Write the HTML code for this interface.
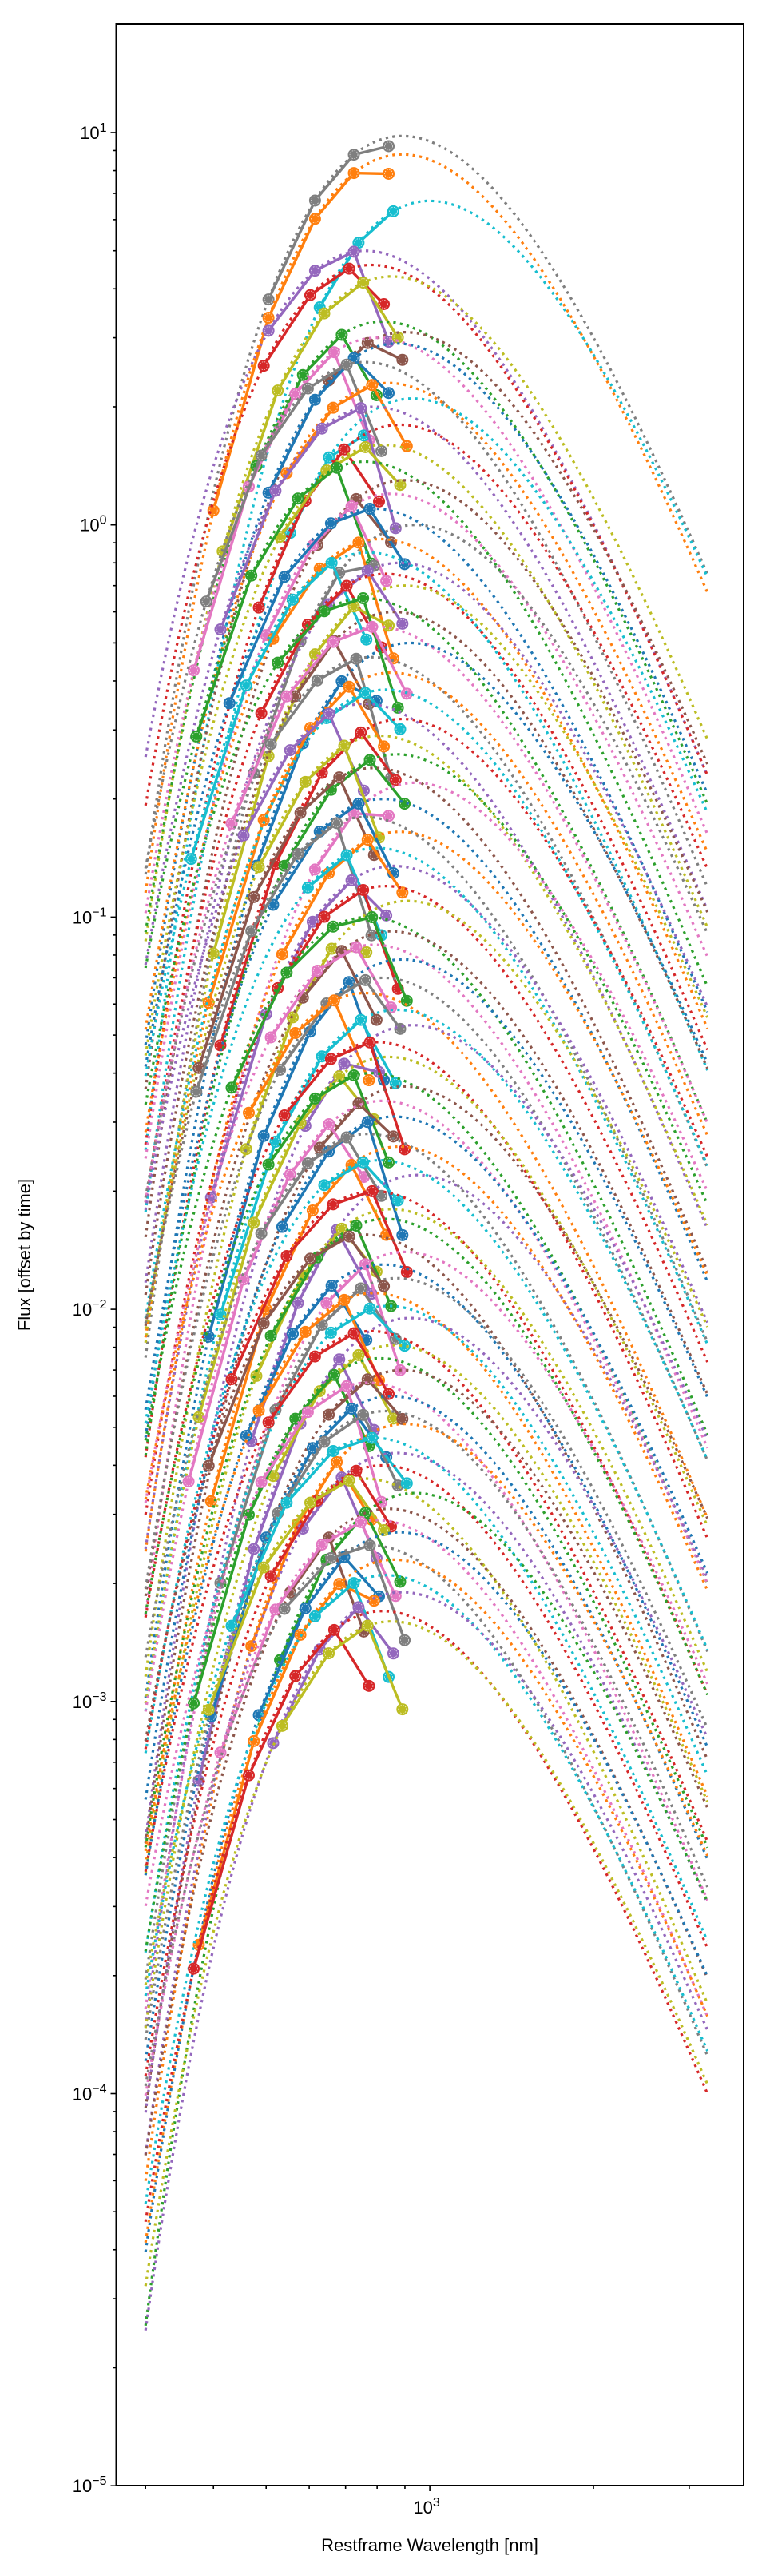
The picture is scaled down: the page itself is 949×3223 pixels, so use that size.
<!DOCTYPE html>
<html><head><meta charset="utf-8"><style>
html,body{margin:0;padding:0;background:#fff;}
svg text{font-family:"Liberation Sans",sans-serif;fill:#000;}
</style></head><body>
<svg id="chart" width="949" height="3218" xmlns="http://www.w3.org/2000/svg">
<rect x="0" y="0" width="949" height="3218" fill="#fff"/>
<g id="curves"></g>
<rect x="145.5" y="30" width="785.5" height="3080" fill="none" stroke="#000" stroke-width="2"/>
<g id="axes"></g>
<text x="538" y="3192" font-size="22" text-anchor="middle">Restframe Wavelength [nm]</text>
<text x="38" y="1570" font-size="22" text-anchor="middle" transform="rotate(-90 38 1570)">Flux [offset by time]</text>
</svg>
<script>
// peak flux of each spectrum (offset by time)
const peakFlux = [9.8,8.8,6.7,5.0,4.6,4.3,3.3,3.1,3.0,2.9,2.6,2.3,2.1,2.0,1.8,1.6,1.45,1.3,1.2,1.1,1.0,0.92,0.85,0.8,0.75,0.7,0.65,0.6,0.55,0.5,0.46,0.42,0.38,0.35,0.32,0.29,0.26,0.24,0.22,0.2,0.18,0.165,0.15,0.135,0.12,0.11,0.1,0.092,0.085,0.078,0.07,0.064,0.058,0.053,0.048,0.044,0.04,0.037,0.034,0.031,0.028,0.026,0.024,0.022,0.02,0.018,0.017,0.0155,0.014,0.013,0.012,0.011,0.0102,0.0095,0.0088,0.0081,0.0075,0.007,0.0065,0.006,0.0055,0.0051,0.0047,0.0043,0.004,0.0037,0.0034,0.0031,0.0029,0.0027,0.0025,0.0023,0.0021,0.0019,0.0017,0.0016];
// wavelength of peak of each model curve [nm]
const peakWave = [890,890,1000,760,780,850,820,900,800,870,760,840,930,790,880,820,760,900,850,790,940,810,770,880,830,900,760,860,800,920,780,850,830,760,890,810,870,790,940,820,760,880,800,860,830,910,770,850,790,890,820,760,870,930,800,840,780,900,820,860,770,880,810,950,790,850,830,760,900,820,870,790,840,920,780,860,810,890,770,850,830,900,790,870,820,760,940,840,800,880,780,860,830,890,820,850];
// redshift-like stretch of observed bands
const bandShift = [1.0,1.0,1.02,1.0,0.98,1.04,0.95,1.06,0.92,1.0,0.97,1.08,0.9,1.03,0.96,1.05,0.93,1.01,0.99,1.07,0.94,1.02,0.91,1.06,0.97,1.0,1.04,0.92,1.08,0.95,1.01,0.98,1.05,0.9,1.03,0.96,1.07,0.94,1.0,1.02,0.93,1.06,0.97,0.99,1.04,0.91,1.08,0.95,1.01,0.98,1.05,0.92,1.03,0.96,1.07,0.94,1.0,1.02,0.9,1.06,0.97,0.99,1.04,0.93,1.08,0.95,1.01,0.98,1.05,0.91,1.03,0.96,1.07,0.94,1.0,1.02,0.92,1.06,0.97,0.99,1.04,0.93,1.08,0.95,1.01,0.98,1.05,0.9,1.03,0.96,1.07,0.94,1.0,1.02,0.92,1.06];
// index of first observed band
const firstBand = [1,0,2,1,1,0,1,2,0,1,0,1,2,0,1,1,0,2,1,0,1,1,0,2,1,0,1,2,0,1,1,0,2,1,0,1,1,0,2,1,0,1,2,0,1,1,0,2,1,0,1,1,0,2,1,0,1,2,0,1,1,0,2,1,0,1,1,0,2,1,0,1,2,0,1,1,0,2,1,0,1,1,0,2,1,0,1,2,0,1,1,0,2,1,0,1];
// ratio of last observed point to model
const lastFactor = [0.95,0.9,1.0,0.6,0.8,0.7,0.65,0.85,0.55,0.75,0.6,0.7,0.9,0.5,0.65,0.8,0.55,0.7,0.6,0.75,0.85,0.5,0.6,0.7,0.65,0.8,0.55,0.6,0.7,0.75,0.5,0.65,0.8,0.6,0.7,0.55,0.75,0.6,0.85,0.65,0.5,0.7,0.6,0.75,0.55,0.8,0.65,0.6,0.7,0.5,0.75,0.6,0.65,0.8,0.55,0.7,0.6,0.75,0.65,0.5,0.7,0.6,0.8,0.55,0.65,0.7,0.6,0.75,0.5,0.65,0.7,0.6,0.8,0.55,0.7,0.65,0.6,0.75,0.5,0.7,0.65,0.6,0.8,0.55,0.7,0.75,0.6,0.5,0.65,0.7,0.6,0.8,0.55,0.7,0.65,0.6];
const bandsBase = [400,505,615,725,840];
const xTickLabels = ["10"];
const colors = ["#1f77b4","#ff7f0e","#2ca02c","#d62728","#9467bd","#8c564b","#e377c2","#7f7f7f","#bcbd22","#17becf"];
const colorOrder = [7,1,9,4,3,8,2,5,6,0];

const NS="http://www.w3.org/2000/svg";
const X0=145.5, X1=931, XL0=Math.log10(265), XL1=Math.log10(3777);
const Y0=30, Y1=3110, YT=166, PPD=490.7;
function xs(l){return X0+(Math.log10(l)-XL0)/(XL1-XL0)*(X1-X0);}
function ys(f){return YT+(1-Math.log10(f))*PPD;}
function model(P,lp,l){const a=4.965;return P*Math.pow(lp/l,5)*(Math.exp(a)-1)/(Math.exp(a*lp/l)-1);}

const g=document.getElementById('curves');
const clip=document.createElementNS(NS,'clipPath');clip.id='clp';
const cr=document.createElementNS(NS,'rect');cr.setAttribute('x',X0);cr.setAttribute('y',Y0);cr.setAttribute('width',X1-X0);cr.setAttribute('height',Y1-Y0);
clip.appendChild(cr);document.getElementById('chart').appendChild(clip);
g.setAttribute('clip-path','url(#clp)');

for(let i=0;i<peakFlux.length;i++){
  const c=colors[colorOrder[i%10]];
  const P=peakFlux[i], lp=peakWave[i];
  let d='';
  for(let k=0;k<=120;k++){
    const l=300*Math.pow(3240/300,k/120);
    d+=(k?'L':'M')+xs(l).toFixed(1)+','+ys(model(P,lp,l)).toFixed(1);
  }
  const p=document.createElementNS(NS,'path');
  
  
  p.setAttribute('d',d);p.setAttribute('fill','none');p.setAttribute('stroke',c);
  p.setAttribute('stroke-width','3.2');p.setAttribute('stroke-dasharray','3.2 5.3');
  g.appendChild(p);
  const pts=[];
  for(let b=firstBand[i];b<bandsBase.length;b++){
    const l=bandsBase[b]*bandShift[i];
    const f=model(P,lp,l)*(b===bandsBase.length-1?lastFactor[i]:1);
    pts.push([xs(l),ys(f)]);
  }
  const pl=document.createElementNS(NS,'polyline');
  
  
  pl.setAttribute('points',pts.map(q=>q[0].toFixed(1)+','+q[1].toFixed(1)).join(' '));
  pl.setAttribute('fill','none');pl.setAttribute('stroke',c);pl.setAttribute('stroke-width','3.4');
  g.appendChild(pl);
  for(const q of pts){
    const m=document.createElementNS(NS,'circle');
    
    
    m.setAttribute('cx',q[0]);m.setAttribute('cy',q[1]);m.setAttribute('r','7.5');m.setAttribute('fill',c);
    g.appendChild(m);
    const m2=document.createElementNS(NS,'circle');
    
    
    m2.setAttribute('cx',q[0]);m2.setAttribute('cy',q[1]);m2.setAttribute('r','5');m2.setAttribute('fill','none');
    m2.setAttribute('stroke','#fff');m2.setAttribute('stroke-width','0.8');m2.setAttribute('stroke-dasharray','1.5 1.5');m2.setAttribute('opacity','0.8');
    g.appendChild(m2);
  }
}

const ax=document.getElementById('axes');
function line(x1,y1,x2,y2,name){
  const l=document.createElementNS(NS,'line');
  
  
  l.setAttribute('x1',x1);l.setAttribute('y1',y1);l.setAttribute('x2',x2);l.setAttribute('y2',y2);
  l.setAttribute('stroke','#000');l.setAttribute('stroke-width','1.6');ax.appendChild(l);
}
for(let e=-5;e<=1;e++){
  const y=ys(Math.pow(10,e));
  line(X0-7,y,X0,y,'y-major-tick');
  const t=document.createElementNS(NS,'text');
  
  
  t.setAttribute('x',X0-12);t.setAttribute('y',y+8);t.setAttribute('font-size','22');t.setAttribute('text-anchor','end');
  t.innerHTML='10<tspan font-size="16" dy="-9">'+(e<0?'\u2212'+(-e):e)+'</tspan>';
  ax.appendChild(t);
  for(let m=2;m<=9;m++){const yy=ys(m*Math.pow(10,e));if(yy>Y0&&yy<Y1)line(X0-4,yy,X0,yy,'y-minor-tick');}
}
line(xs(1000),Y1,xs(1000),Y1+7,'x-major-tick');
[300,400,500,600,700,800,900,2000,3000].forEach(v=>line(xs(v),Y1,xs(v),Y1+4,'x-minor-tick'));
const xt=document.createElementNS(NS,'text');


xt.setAttribute('x',xs(1000)-4);xt.setAttribute('y',Y1+35);xt.setAttribute('font-size','22');xt.setAttribute('text-anchor','middle');
xt.innerHTML=xTickLabels[0]+'<tspan font-size="16" dy="-9">3</tspan>';
ax.appendChild(xt);
</script>
</body></html>
